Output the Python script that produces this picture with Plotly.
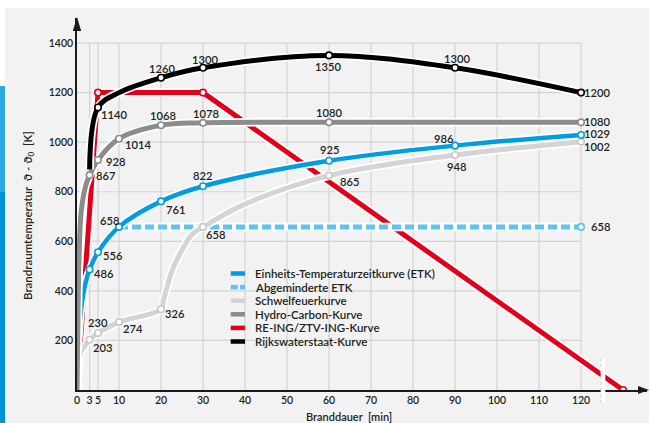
import plotly.graph_objects as go

# --- data ---
x_ticks = [0, 3, 5, 10, 20, 30, 40, 50, 60, 70, 80, 90, 100, 110, 120]
y_ticks = [200, 400, 600, 800, 1000, 1200, 1400]

# Einheits-Temperaturzeitkurve (ETK)
etk_time = [3, 5, 10, 20, 30, 60, 90, 120]
etk_temp = [486, 556, 658, 761, 822, 925, 986, 1029]
etk_rise_time = [0, 0.25, 0.5, 1, 2]
etk_rise_temp = [0, 160, 240, 330, 430]

# Abgeminderte ETK
abg_time = [10, 120]
abg_temp = [658, 658]

# Schwelfeuerkurve
sw_time = [3, 5, 10, 20, 30, 60, 90, 120]
sw_temp = [203, 230, 274, 326, 658, 865, 948, 1002]
sw_extra_time = [0, 0.25, 0.5, 1, 2, 20.6, 21.7, 23, 25, 27.5, 40]
sw_extra_temp = [0, 110, 130, 155, 180, 363, 432, 497, 565, 630, 750]

# Hydro-Carbon-Kurve
hc_time = [3, 5, 10, 20, 30, 60, 120]
hc_temp = [867, 928, 1014, 1068, 1078, 1080, 1080]
hc_rise_time = [0, 0.25, 0.5, 1, 2]
hc_rise_temp = [0, 330, 540, 720, 820]

# RE-ING/ZTV-ING-Kurve
red_time = [0, 5, 30, 130]
red_temp = [0, 1200, 1200, 0]

# Rijkswaterstaat-Kurve
rws_time = [5, 20, 30, 60, 90, 120]
rws_temp = [1140, 1260, 1300, 1350, 1300, 1200]
rws_extra_time = [3, 10]
rws_extra_temp = [890, 1200]

legend_labels = ["Einheits-Temperaturzeitkurve (ETK)", "Abgeminderte ETK", "Schwelfeuerkurve",
                 "Hydro-Carbon-Kurve", "RE-ING/ZTV-ING-Kurve", "Rijkswaterstaat-Kurve"]

# --- styling ---
C_ETK = "#009ee0"
C_ABG = "#5bc4f1"
C_SW = "#d4d4d4"
C_HC = "#8c8c8c"
C_RED = "#e2001a"
C_RWS = "#000000"
BG = "#f2f2f2"
GRID = "#d3d3d3"
TXT = "#231f20"
FONT = "Lato"

# label offsets in px (dx right, dy down)
etk_off = [(14, 4), (15, 3), (-10, -6), (14, 8), (-1, -10.5), (0, -11), (-11, -7), (16, -1)]
abg_off = [(19, 0)]
sw_off = [(13, 7.5), (-0.5, -11), (14, 6), (14, 4), (12, 8), (20, 6), (1, 11), (16, 4.5)]
hc_off = [(16, 0), (17, 1), (19, 5.5), (1.5, -10), (3, -9.5), (0, -9.6), (16, -1)]
rws_off = [(16, 7), (1, -9.5), (1.5, -8.5), (-1, 10.6), (1.5, -9.5), (16, 0)]

L, R, T, B = 77, 2, 18, 33
W, H = 649, 423
PW, PH = W - L - R, H - T - B
X_MAX = 135.7
Y_MAX = 1501


def px(p):
    return (p - L) / PW


def py(p):
    return (T + PH - p) / PH


def merged(t1, v1, t2, v2):
    pts = sorted(zip(list(t1) + list(t2), list(v1) + list(v2)))
    return [p[0] for p in pts], [p[1] for p in pts]


fig = go.Figure()


def add_curve(t, v, color, width=5, dash="solid", shape="spline"):
    fig.add_trace(go.Scatter(x=t, y=v, mode="lines", line=dict(color="white", width=width + 3.5, shape=shape),
                             hoverinfo="skip", showlegend=False))
    fig.add_trace(go.Scatter(x=t, y=v, mode="lines", line=dict(color=color, width=width, dash=dash, shape=shape),
                             hoverinfo="skip", showlegend=False))


def add_markers(t, v, color):
    fig.add_trace(go.Scatter(x=t, y=v, mode="markers", hoverinfo="skip", showlegend=False,
                             marker=dict(size=6.5, color="white", line=dict(color=color, width=1.6))))


annos = []


def add_labels(t, v, offs):
    for ti, vi, (dx, dy) in zip(t, v, offs):
        annos.append(dict(x=ti, y=vi, text=str(vi), showarrow=False, xanchor="center", yanchor="middle",
                          xshift=dx, yshift=-dy, font=dict(family=FONT, size=11.2, color=TXT, weight=600)))


# red (bottom)
add_curve(red_time, red_temp, C_RED, shape="linear")
add_markers(red_time[1:], red_temp[1:], C_RED)

# abgeminderte ETK
add_curve(abg_time, abg_temp, C_ABG, dash="9px,4px", shape="linear")
add_markers(abg_time[1:], abg_temp[1:], C_ABG)
add_labels(abg_time[1:], abg_temp[1:], abg_off)

# Schwelfeuer
t, v = merged(sw_time, sw_temp, sw_extra_time, sw_extra_temp)
add_curve(t, v, C_SW)
add_markers(sw_time, sw_temp, "#c8c8c8")
add_labels(sw_time, sw_temp, sw_off)

# ETK
t, v = merged(etk_time, etk_temp, etk_rise_time, etk_rise_temp)
add_curve(t, v, C_ETK, width=4.5)
add_markers(etk_time, etk_temp, C_ETK)
add_labels(etk_time, etk_temp, etk_off)

# Hydro-Carbon
t, v = merged(hc_time, hc_temp, hc_rise_time, hc_rise_temp)
add_curve(t, v, C_HC)
add_markers(hc_time, hc_temp, C_HC)
add_labels(hc_time, hc_temp, hc_off)

# Rijkswaterstaat
t, v = merged(rws_time, rws_temp, rws_extra_time, rws_extra_temp)
add_curve(t, v, C_RWS)
add_markers(rws_time, rws_temp, C_RWS)
add_labels(rws_time, rws_temp, rws_off)

shapes = []
# grid box 0..120 x 0..1400
for xv in x_ticks[1:]:
    shapes.append(dict(type="line", xref="x", yref="y", x0=xv, x1=xv, y0=0, y1=1400,
                       line=dict(color=GRID, width=1.2), layer="below"))
for yv in y_ticks:
    shapes.append(dict(type="line", xref="x", yref="y", x0=0, x1=120, y0=yv, y1=yv,
                       line=dict(color=GRID, width=1.2), layer="below"))

# legend background covering grid
shapes.append(dict(type="rect", xref="paper", yref="paper", x0=px(226), x1=px(443), y0=py(347), y1=py(264),
                   fillcolor=BG, line=dict(width=0), layer="below"))

# page decoration: white top strip, blue left strip
shapes.append(dict(type="rect", xref="paper", yref="paper", x0=px(0) - 0.05, x1=px(W) + 0.05, y0=py(8), y1=py(-20),
                   fillcolor="white", line=dict(width=0), layer="below"))
shapes.append(dict(type="rect", xref="paper", yref="paper", x0=px(-5), x1=px(5), y0=py(86), y1=py(-20),
                   fillcolor="white", line=dict(width=0), layer="below"))
shapes.append(dict(type="rect", xref="paper", yref="paper", x0=px(-5), x1=px(5), y0=py(192), y1=py(86),
                   fillcolor="#2aa9e1", line=dict(width=0), layer="below"))
shapes.append(dict(type="rect", xref="paper", yref="paper", x0=px(-5), x1=px(5), y0=py(440), y1=py(192),
                   fillcolor="#0092d6", line=dict(width=0), layer="below"))

# axis break
shapes.append(dict(type="rect", xref="paper", yref="paper", x0=px(600.7), x1=px(605.3), y0=py(403), y1=py(358),
                   fillcolor="white", line=dict(width=0), layer="above"))
shapes.append(dict(type="line", xref="paper", yref="paper", x0=px(601), x1=px(601), y0=py(403), y1=py(358),
                   line=dict(color="#cfcfcf", width=1, dash="dot"), layer="above"))

# axis arrowheads
shapes.append(dict(type="path", xref="paper", yref="paper",
                   path=f"M {px(638)} {py(386)} L {px(649)} {py(390)} L {px(638)} {py(394)} Z",
                   fillcolor="#1a1a1a", line=dict(width=0), layer="above"))
shapes.append(dict(type="path", xref="paper", yref="paper",
                   path=f"M {px(72.8)} {py(31)} L {px(77)} {py(17)} L {px(81.2)} {py(31)} Z",
                   fillcolor="#1a1a1a", line=dict(width=0), layer="above"))

# legend entries
leg_colors = [C_ETK, C_ABG, C_SW, C_HC, C_RED, C_RWS]
for i, (lab, col) in enumerate(zip(legend_labels, leg_colors)):
    yy = 273.5 + i * 13.6
    if lab == "Abgeminderte ETK":
        shapes.append(dict(type="line", xref="paper", yref="paper", x0=px(230.7), x1=px(237.7), y0=py(yy), y1=py(yy),
                           line=dict(color=col, width=4.5), layer="above"))
        shapes.append(dict(type="line", xref="paper", yref="paper", x0=px(240), x1=px(245), y0=py(yy), y1=py(yy),
                           line=dict(color=col, width=4.5), layer="above"))
    else:
        shapes.append(dict(type="line", xref="paper", yref="paper", x0=px(230.7), x1=px(245), y0=py(yy), y1=py(yy),
                           line=dict(color=col, width=4.5), layer="above"))
    annos.append(dict(xref="paper", yref="paper", x=px(253), y=py(yy), text=lab, showarrow=False,
                      xanchor="left", yanchor="middle", font=dict(family=FONT, size=11.5, color=TXT, weight=600)))

# axis titles
annos.append(dict(xref="paper", yref="paper", x=px(28), y=py(216), text="Brandraumtemperatur  ϑ - ϑ<sub>0</sub>  [K]",
                  showarrow=False, textangle=-90, xanchor="center", yanchor="middle",
                  font=dict(family=FONT, size=11.5, color=TXT, weight=600)))
annos.append(dict(xref="paper", yref="paper", x=px(349), y=py(416), text="Branddauer  [min]",
                  showarrow=False, xanchor="center", yanchor="middle",
                  font=dict(family=FONT, size=11, color=TXT, weight=600)))

fig.update_layout(
    width=W, height=H, autosize=False,
    margin=dict(l=L, r=R, t=T, b=B, pad=0),
    paper_bgcolor=BG, plot_bgcolor="rgba(0,0,0,0)",
    showlegend=False,
    shapes=shapes, annotations=annos,
    font=dict(family=FONT, size=10.5, color=TXT),
)
fig.update_xaxes(range=[0, X_MAX], tickvals=x_ticks, ticktext=[str(v) for v in x_ticks],
                 showgrid=False, zeroline=False, showline=True, linecolor="#1a1a1a", linewidth=1.5,
                 layer="below traces", ticks="", tickfont=dict(family=FONT, size=10.5, color=TXT, weight=600))
fig.update_yaxes(range=[0, Y_MAX], tickvals=y_ticks, ticktext=[str(v) for v in y_ticks],
                 showgrid=False, zeroline=False, showline=True, linecolor="#1a1a1a", linewidth=1.5,
                 layer="below traces", ticks="", tickfont=dict(family=FONT, size=10.5, color=TXT, weight=600))

fig.write_html("out.html", config={"displayModeBar": False},
               post_script="document.body.style.margin='0';")
